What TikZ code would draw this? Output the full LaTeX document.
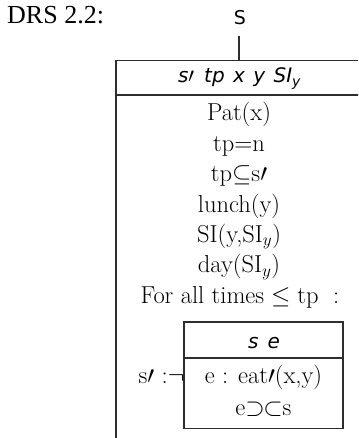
\documentclass[tikz,border=0pt]{standalone}
\usepackage{amsmath}
\usepackage{fontspec}
\newfontfamily\timesfont{Liberation Serif}
\newfontfamily\dvsans{DejaVu Sans}
\begin{document}
\begin{tikzpicture}[x=1pt,y=-1pt,
  boxline/.style={line width=1.3pt, draw=black!82},
  body/.style={font=\fontsize{24.5}{28}\selectfont, anchor=base, inner sep=0pt},
  hdr/.style={font=\fontsize{20}{24}\selectfont\dvsans\itshape, anchor=base, inner sep=0pt}]
\useasboundingbox (0,0) rectangle (358,438);
\clip (0,0) rectangle (358,438);
% title
\node[anchor=base west, font=\timesfont\fontsize{26}{28}\selectfont, inner sep=0pt] (label) at (7,23.5) {DRS 2.2:};
\node[anchor=base, font=\dvsans\fontsize{19}{20}\selectfont, inner sep=0pt] (S) at (240,25) {S};
\coordinate (stem) at (239,36);
\coordinate (boxtop) at (239,60.5);
\draw[boxline] (stem) -- (boxtop);
% outer box (cut off at right and bottom)
\draw[boxline] (364,60.5) -- (116,60.5) -- (116,444);
\draw[boxline] (116,95) -- (364,95);
\node[hdr] (head) at (239.5,83) {s$\prime$\hspace{0.5em}tp\hspace{0.42em}x\hspace{0.42em}y\hspace{0.42em}SI$_{\text{\dvsans\itshape y}}$};
% body
\node[body] (l1) at (239,121) {Pat(x)};
\node[body] (l2) at (239,151.5) {tp$\mathord{=}$n};
\node[body] (l3) at (239,182) {tp$\mathord{\subseteq}$s$\prime$};
\node[body] (l4) at (239,212) {lunch(y)};
\node[body] (l5) at (239,242) {SI(y,SI$_y$)};
\node[body] (l6) at (239,272.5) {day(SI$_y$)};
\node[body] (l7) at (240,303) {For all times$\;\leq\;$tp\hspace{0.6em}:};
% inner box
\draw[boxline] (184,322) rectangle (343,428.5);
\draw[boxline] (184,358) -- (343,358);
\node[hdr] (ihead) at (264,348) {s\hspace{0.45em}e};
\node[body] (i1) at (263.5,383) {e : eat$\prime$(x,y)};
\node[body] (i2) at (263.5,415) {e$\mathord{\supset}\mkern-1mu\mathord{\subset}$s};
\node[body, anchor=base east] (neg) at (184.6,383) {s$\prime$ :$\neg$};
\end{tikzpicture}
\end{document}
